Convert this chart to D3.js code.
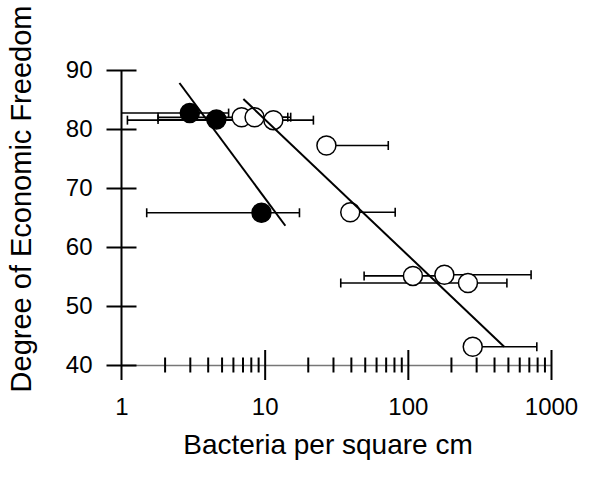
<!DOCTYPE html>
<html>
<head>
<meta charset="utf-8">
<script src="https://cdn.jsdelivr.net/npm/d3@7"></script>
<style>
  body { margin: 0; background: #fff; }
  text { font-family: "Liberation Sans", Arial, sans-serif; fill: #000; }
</style>
</head>
<body>
<div id="chart"></div>
<script>
// filled circles (one group) - x value, y value, +/- error on x (linear)
const filledX = [3.0, 4.6, 9.5];
const filledY = [82.7, 81.6, 65.8];
const filledErr = [2.6, 2.8, 8.0];

// open circles (other group)
const openX = [6.9, 8.5, 11.5, 27, 39.6, 108.5, 180, 263, 284];
const openY = [82.0, 82.0, 81.5, 77.2, 65.9, 55.1, 55.3, 53.9, 43.1];
const openErr = [7.6, 6.7, 10.4, 46, 42, 59, 546, 229, 512];

// fitted lines, end points in data units
const fitFilledX = [2.54, 13.95];
const fitFilledY = [87.8, 63.6];
const fitOpenX = [7.1, 471];
const fitOpenY = [85.1, 43.1];

const yTicks = [40, 50, 60, 70, 80, 90];
const xLabels = [1, 10, 100, 1000];

const width = 596, height = 484;

const svg = d3
  .select("#chart")
  .append("svg")
  .attr("width", width)
  .attr("height", height);

const x = d3.scaleLog().domain([1, 1000]).range([121.5, 551]);
const y = d3.scaleLinear().domain([40, 90]).range([365, 70]);

// X axis: thin grey line, ticks crossing it
const xAxis = svg
  .append("g")
  .attr("transform", `translate(0,${y(40)})`)
  .call(
    d3.axisBottom(x)
      .tickValues(x.ticks())
      .tickSizeOuter(0)
      .tickFormat((d) => (xLabels.includes(d) ? d3.format("d")(d) : ""))
  );
xAxis.select(".domain").attr("stroke", "#777").attr("stroke-width", 1.5);
xAxis
  .selectAll(".tick line")
  .attr("stroke", "#000")
  .attr("stroke-width", 2)
  .attr("y1", (d) => (xLabels.includes(d) ? -15 : -7.5))
  .attr("y2", (d) => (xLabels.includes(d) ? 15 : 7.5))
  .attr("display", (d) => (d === 1 ? "none" : null));
xAxis
  .selectAll(".tick text")
  .attr("y", 33)
  .style("font-size", "24px");

// Y axis: black line running down past 40, ticks crossing it
const yAxis = svg
  .append("g")
  .attr("transform", `translate(${x(1)},0)`)
  .call(d3.axisLeft(y).tickValues(yTicks).tickSize(15).tickPadding(14));
yAxis.select(".domain").remove();
yAxis
  .selectAll(".tick line")
  .attr("x1", 15)
  .attr("stroke", "#000")
  .attr("stroke-width", 2);
yAxis.selectAll(".tick text").style("font-size", "24px");
yAxis
  .append("line")
  .attr("y1", y(90))
  .attr("y2", y(40) + 15)
  .attr("stroke", "#000")
  .attr("stroke-width", 2);

// titles
svg
  .append("text")
  .attr("x", 328)
  .attr("y", 454)
  .attr("text-anchor", "middle")
  .style("font-size", "28px")
  .text("Bacteria per square cm");

svg
  .append("text")
  .attr("transform", `translate(31,199) rotate(-90)`)
  .attr("text-anchor", "middle")
  .style("font-size", "29px")
  .text("Degree of Economic Freedom");

const filled = filledX.map((v, i) => ({ x: v, y: filledY[i], err: filledErr[i], open: false }));
const open = openX.map((v, i) => ({ x: v, y: openY[i], err: openErr[i], open: true }));
const points = [...open, ...filled];

// error bars: drop the low side if it goes below zero, clip at 1 without cap
const capH = 4.5;
const bars = svg.append("g").attr("stroke", "#000").attr("stroke-width", 1.6);
points.forEach((p) => {
  const lo = p.x - p.err, hi = p.x + p.err;
  const py = y(p.y);
  const x0 = lo > 0 ? x(Math.max(lo, 1)) : x(p.x);
  bars.append("line").attr("x1", x0).attr("x2", x(hi)).attr("y1", py).attr("y2", py);
  bars.append("line").attr("x1", x(hi)).attr("x2", x(hi)).attr("y1", py - capH).attr("y2", py + capH);
  if (lo >= 1) {
    bars.append("line").attr("x1", x(lo)).attr("x2", x(lo)).attr("y1", py - capH).attr("y2", py + capH);
  }
});

// circles
svg
  .append("g")
  .selectAll("circle")
  .data(points)
  .join("circle")
  .attr("cx", (d) => x(d.x))
  .attr("cy", (d) => y(d.y))
  .attr("r", 9.5)
  .attr("fill", (d) => (d.open ? "#fff" : "#000"))
  .attr("stroke", "#000")
  .attr("stroke-width", 1.5);

// fitted lines
const line = d3.line().x((d) => x(d[0])).y((d) => y(d[1]));
[
  [fitFilledX, fitFilledY],
  [fitOpenX, fitOpenY],
].forEach(([fx, fy]) => {
  svg
    .append("path")
    .attr("d", line(fx.map((v, i) => [v, fy[i]])))
    .attr("fill", "none")
    .attr("stroke", "#000")
    .attr("stroke-width", 2);
});
</script>
</body>
</html>
